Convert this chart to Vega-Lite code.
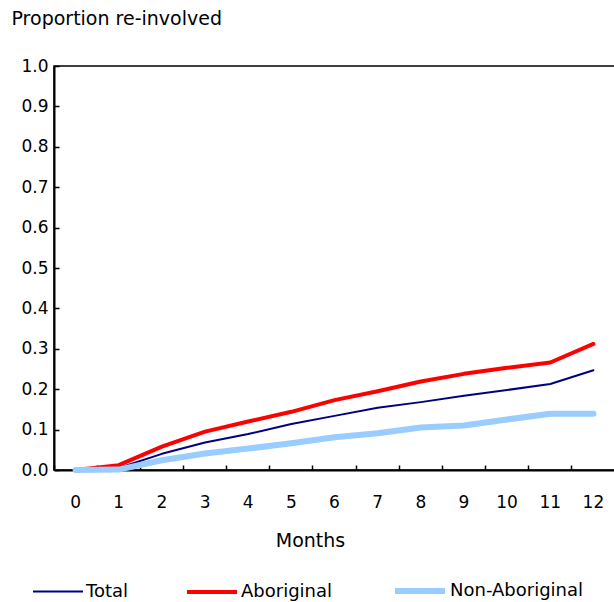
{
  "$schema": "https://vega.github.io/schema/vega-lite/v6.json",
  "width": 561,
  "height": 404,
  "autosize": {"type": "none"},
  "padding": {"left": 54, "top": 66, "right": 0, "bottom": 132},
  "background": "white",
  "config": {
    "font": "DejaVu Sans",
    "view": {"stroke": "black", "strokeWidth": 1.5},
    "axis": {
      "grid": false,
      "domainColor": "black",
      "domainWidth": 2,
      "tickColor": "black",
      "tickWidth": 1.5,
      "labelColor": "black",
      "titleColor": "black",
      "labelFontSize": 17,
      "titleFontSize": 19,
      "titleFontWeight": "normal"
    },
    "legend": {
      "orient": "none",
      "legendX": -22,
      "legendY": 497,
      "direction": "horizontal",
      "symbolType": "stroke",
      "symbolSize": 2500,
      "labelFontSize": 18,
      "labelColor": "black",
      "labelOffset": 2,
      "columnPadding": 50,
      "padding": 0
    }
  },
  "data": {
    "values": [
      {"month": 0, "series": "Total", "value": 0},
      {"month": 1, "series": "Total", "value": 0.005},
      {"month": 2, "series": "Total", "value": 0.04},
      {"month": 3, "series": "Total", "value": 0.068},
      {"month": 4, "series": "Total", "value": 0.089},
      {"month": 5, "series": "Total", "value": 0.114},
      {"month": 6, "series": "Total", "value": 0.134},
      {"month": 7, "series": "Total", "value": 0.154},
      {"month": 8, "series": "Total", "value": 0.168},
      {"month": 9, "series": "Total", "value": 0.184},
      {"month": 10, "series": "Total", "value": 0.198},
      {"month": 11, "series": "Total", "value": 0.213},
      {"month": 12, "series": "Total", "value": 0.247},
      {"month": 0, "series": "Aboriginal", "value": 0},
      {"month": 1, "series": "Aboriginal", "value": 0.012},
      {"month": 2, "series": "Aboriginal", "value": 0.058},
      {"month": 3, "series": "Aboriginal", "value": 0.095},
      {"month": 4, "series": "Aboriginal", "value": 0.12},
      {"month": 5, "series": "Aboriginal", "value": 0.144},
      {"month": 6, "series": "Aboriginal", "value": 0.173},
      {"month": 7, "series": "Aboriginal", "value": 0.195},
      {"month": 8, "series": "Aboriginal", "value": 0.219},
      {"month": 9, "series": "Aboriginal", "value": 0.238},
      {"month": 10, "series": "Aboriginal", "value": 0.253},
      {"month": 11, "series": "Aboriginal", "value": 0.266},
      {"month": 12, "series": "Aboriginal", "value": 0.312},
      {"month": 0, "series": "Non-Aboriginal", "value": 0},
      {"month": 1, "series": "Non-Aboriginal", "value": 0.001},
      {"month": 2, "series": "Non-Aboriginal", "value": 0.024},
      {"month": 3, "series": "Non-Aboriginal", "value": 0.041},
      {"month": 4, "series": "Non-Aboriginal", "value": 0.053},
      {"month": 5, "series": "Non-Aboriginal", "value": 0.066},
      {"month": 6, "series": "Non-Aboriginal", "value": 0.081},
      {"month": 7, "series": "Non-Aboriginal", "value": 0.091},
      {"month": 8, "series": "Non-Aboriginal", "value": 0.105},
      {"month": 9, "series": "Non-Aboriginal", "value": 0.11},
      {"month": 10, "series": "Non-Aboriginal", "value": 0.125},
      {"month": 11, "series": "Non-Aboriginal", "value": 0.139},
      {"month": 12, "series": "Non-Aboriginal", "value": 0.139}
    ]
  },
  "mark": {"type": "line", "strokeCap": "round", "strokeJoin": "round"},
  "encoding": {
    "x": {
      "field": "month",
      "type": "ordinal",
      "scale": {"type": "band", "paddingInner": 0, "paddingOuter": 0},
      "axis": {
        "title": "Months",
        "labelAngle": 0,
        "bandPosition": 0,
        "tickSize": -5,
        "labelPadding": 29,
        "titleX": 256,
        "titleY": 70,
        "titleBaseline": "middle",
        "titleAlign": "center"
      }
    },
    "y": {
      "field": "value",
      "type": "quantitative",
      "scale": {"domain": [0, 1], "nice": false},
      "axis": {
        "values": [0, 0.1, 0.2, 0.3, 0.4, 0.5, 0.6, 0.7, 0.8, 0.9, 1.0],
        "format": ".1f",
        "tickSize": -5,
        "labelPadding": 11,
        "title": "Proportion re-involved",
        "titleAngle": 0,
        "titleAlign": "left",
        "titleBaseline": "middle",
        "titleX": -43,
        "titleY": -48
      }
    },
    "color": {
      "field": "series",
      "type": "nominal",
      "scale": {"domain": ["Total", "Aboriginal", "Non-Aboriginal"], "range": ["#000080", "#FF0000", "#99CCFF"]},
      "legend": {"title": null}
    },
    "strokeWidth": {
      "field": "series",
      "type": "nominal",
      "scale": {"domain": ["Total", "Aboriginal", "Non-Aboriginal"], "range": [2, 6, 6]},
      "legend": {"title": null}
    }
  }
}
